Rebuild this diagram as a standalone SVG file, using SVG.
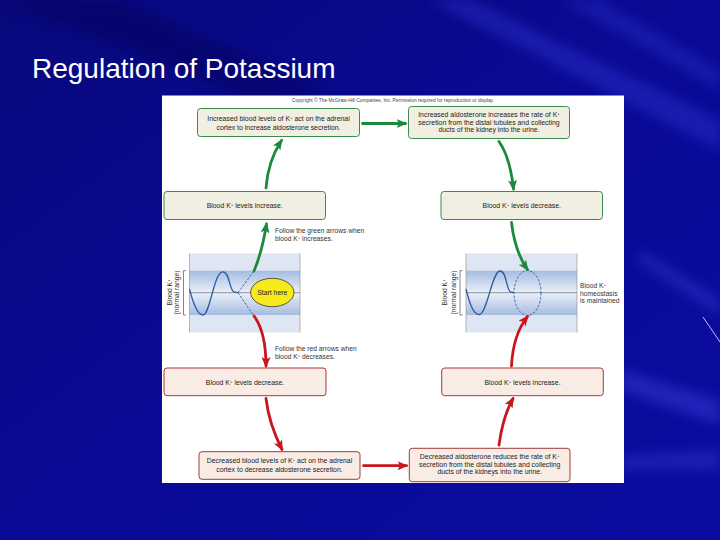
<svg xmlns="http://www.w3.org/2000/svg" width="720" height="540" viewBox="0 0 720 540">
<defs>
<linearGradient id="bg" x1="0" y1="0" x2="1" y2="1">
<stop offset="0" stop-color="#08087c"/>
<stop offset="0.5" stop-color="#0a0a96"/>
<stop offset="1" stop-color="#0b0ba0"/>
</linearGradient>
<linearGradient id="band" x1="0" y1="0" x2="0" y2="1">
<stop offset="0" stop-color="#a6bbe0"/>
<stop offset="0.5" stop-color="#eaf0f9"/>
<stop offset="1" stop-color="#a6bbe0"/>
</linearGradient>
<filter id="blur" x="-20%" y="-20%" width="140%" height="140%"><feGaussianBlur stdDeviation="6"/></filter>
<marker id="ag" markerUnits="userSpaceOnUse" markerWidth="11" markerHeight="9" viewBox="0 0 11 9" refX="9" refY="4.5" orient="auto">
<path d="M0,0 L11,4.5 L0,9 L2.5,4.5 z" fill="#1c8a3c"/>
</marker>
<marker id="ar" markerUnits="userSpaceOnUse" markerWidth="11" markerHeight="9" viewBox="0 0 11 9" refX="9" refY="4.5" orient="auto">
<path d="M0,0 L11,4.5 L0,9 L2.5,4.5 z" fill="#c8161d"/>
</marker>
</defs>
<style>
.txt{font-family:"Liberation Sans",Arial,sans-serif;font-size:6.9px;fill:#222;text-anchor:middle}
.lab{font-family:"Liberation Sans",Arial,sans-serif;font-size:6.7px;fill:#333}
.gbox{fill:#f1efe1;stroke:#3b8b4f;stroke-width:1}
.rbox{fill:#f8ece5;stroke:#a23b3b;stroke-width:1}
.ga{fill:none;stroke:#1c8a3c;stroke-width:2.8;stroke-linecap:round;marker-end:url(#ag)}
.ra{fill:none;stroke:#c8161d;stroke-width:2.8;stroke-linecap:round;marker-end:url(#ar)}
.dash{fill:none;stroke:#2a5a9a;stroke-width:0.9;stroke-dasharray:2.5 1.5}
.wave{fill:none;stroke:#2b5c9e;stroke-width:1.3}
.sup{font-size:4.4px}
</style>

<!-- background -->
<rect x="0" y="0" width="720" height="540" fill="url(#bg)"/>
<g filter="url(#blur)" opacity="0.35">
<polygon points="430,0 470,0 720,120 720,150" fill="#3a3ae0"/>
<polygon points="560,0 600,0 720,70 720,90" fill="#3030d0"/>
<polygon points="0,0 120,0 330,90 250,100" fill="#020250"/>
<polygon points="620,370 720,400 720,425 620,390" fill="#5050f0"/>
<polygon points="620,455 720,450 720,470 620,470" fill="#4040e0"/>
<polygon points="640,250 720,300 720,315 640,262" fill="#4a4ae8"/>
</g>
<line x1="703" y1="317" x2="720" y2="342" stroke="#c9b8ff" stroke-width="1"/>

<text x="32" y="78" font-family="'Liberation Sans',Arial,sans-serif" font-size="28" fill="#ffffff">Regulation of Potassium</text>

<!-- panel -->
<rect x="162" y="95.5" width="462" height="387.5" fill="#ffffff"/>
<text x="393" y="102" font-family="'Liberation Sans',Arial,sans-serif" font-size="4.85" fill="#444" text-anchor="middle">Copyright © The McGraw-Hill Companies, Inc. Permission required for reproduction or display.</text>

<!-- charts -->
<g id="chart-left">
<rect x="189.5" y="253.5" width="110.5" height="79" fill="#dfe6f3"/>
<rect x="189.5" y="270.7" width="110.5" height="44.3" fill="url(#band)"/>
<line x1="189.5" y1="253.5" x2="189.5" y2="332.5" stroke="#8a8a8a" stroke-width="0.6"/>
<line x1="300" y1="253.5" x2="300" y2="332.5" stroke="#8a8a8a" stroke-width="0.6"/>
<line x1="189.5" y1="292.7" x2="300" y2="292.7" stroke="#555" stroke-width="0.6"/>
<path d="M183.5,270.7 H186 M183.5,270.7 V315 M183.5,315 H186" fill="none" stroke="#333" stroke-width="0.6"/>
<text class="lab" transform="translate(172.2,292.5) rotate(-90)" text-anchor="middle">Blood K<tspan class="sup" dy="-2">+</tspan></text>
<text class="lab" transform="translate(179.2,292.5) rotate(-90)" text-anchor="middle">(normal range)</text>
<path class="wave" d="M189.5,289 C193,303 197,315 203,315 C210,315 214,271.8 222.7,271.8 C230,271.8 229,290 234,291.8 L238,292.7"/>
<path class="dash" d="M238,292.7 L254,271"/>
<path class="dash" d="M238,292.7 L254,316"/>
</g>
<g id="start">
<ellipse cx="272.3" cy="292.5" rx="21.7" ry="14.2" fill="#f6ea1c" stroke="#333" stroke-width="0.8"/>
<text x="272.3" y="294.8" class="txt">Start here</text>
</g>

<g id="chart-right">
<rect x="466" y="253.5" width="111" height="79" fill="#dfe6f3"/>
<rect x="466" y="270.7" width="111" height="44.3" fill="url(#band)"/>
<line x1="466" y1="253.5" x2="466" y2="332.5" stroke="#8a8a8a" stroke-width="0.6"/>
<line x1="577" y1="253.5" x2="577" y2="332.5" stroke="#8a8a8a" stroke-width="0.6"/>
<line x1="466" y1="292.7" x2="577" y2="292.7" stroke="#555" stroke-width="0.6"/>
<path d="M460,270.7 H462.5 M460,270.7 V315 M460,315 H462.5" fill="none" stroke="#333" stroke-width="0.6"/>
<text class="lab" transform="translate(447.2,292.5) rotate(-90)" text-anchor="middle">Blood K<tspan class="sup" dy="-2">+</tspan></text>
<text class="lab" transform="translate(455.8,292.5) rotate(-90)" text-anchor="middle">(normal range)</text>
<path class="wave" d="M466,289 C469.5,303 473,314.5 479.3,314.5 C487,314.5 492,271 500,271 C507,271 506,290 510.5,291.8 L514,292.7"/>
<ellipse class="dash" cx="527.5" cy="293" rx="13.5" ry="22.5"/>
<text class="lab" x="580" y="288.2">Blood K<tspan class="sup" dy="-2">+</tspan></text>
<text class="lab" x="580" y="295.8">homeostasis</text>
<text class="lab" x="580" y="303.4">is maintained</text>
</g>

<!-- boxes -->
<g id="box1">
<rect class="gbox" x="197.5" y="108.5" width="162" height="28" rx="3"/>
<text class="txt" x="278.5" y="121.3">Increased blood levels of K<tspan class="sup" dy="-2">+</tspan><tspan dy="2"> act on the adrenal</tspan></text>
<text class="txt" x="278.5" y="129.7">cortex to increase aldosterone secretion.</text>
</g>
<g id="box2">
<rect class="gbox" x="408.5" y="106.5" width="161" height="32" rx="3"/>
<text class="txt" x="489" y="117.1">Increased aldosterone increases the rate of K<tspan class="sup" dy="-2">+</tspan></text>
<text class="txt" x="489" y="124.8">secretion from the distal tubules and collecting</text>
<text class="txt" x="489" y="132.4">ducts of the kidney into the urine.</text>
</g>
<g id="box3">
<rect class="gbox" x="164" y="191.5" width="161.5" height="28" rx="3"/>
<text class="txt" x="244.7" y="208">Blood K<tspan class="sup" dy="-2">+</tspan><tspan dy="2"> levels increase.</tspan></text>
</g>
<g id="box4">
<rect class="gbox" x="441" y="191.5" width="161.5" height="28" rx="3"/>
<text class="txt" x="521.8" y="208">Blood K<tspan class="sup" dy="-2">+</tspan><tspan dy="2"> levels decrease.</tspan></text>
</g>
<g id="box5">
<rect class="rbox" x="164" y="368" width="162" height="27.7" rx="3"/>
<text class="txt" x="245" y="385">Blood K<tspan class="sup" dy="-2">+</tspan><tspan dy="2"> levels decrease.</tspan></text>
</g>
<g id="box6">
<rect class="rbox" x="441.7" y="368" width="161.6" height="27.7" rx="3"/>
<text class="txt" x="522.5" y="385">Blood K<tspan class="sup" dy="-2">+</tspan><tspan dy="2"> levels increase.</tspan></text>
</g>
<g id="box7">
<rect class="rbox" x="199" y="451.7" width="161" height="27.6" rx="3"/>
<text class="txt" x="279.5" y="463.2">Decreased blood levels of K<tspan class="sup" dy="-2">+</tspan><tspan dy="2"> act on the adrenal</tspan></text>
<text class="txt" x="279.5" y="471.5">cortex to decrease aldosterone secretion.</text>
</g>
<g id="box8">
<rect class="rbox" x="409.3" y="448.3" width="160.7" height="33.4" rx="3"/>
<text class="txt" x="489.7" y="459.2">Decreased aldosterone reduces the rate of K<tspan class="sup" dy="-2">+</tspan></text>
<text class="txt" x="489.7" y="466.6">secretion from the distal tubules and collecting</text>
<text class="txt" x="489.7" y="474.2">ducts of the kidneys into the urine.</text>
</g>

<g id="notes">
<text class="lab" x="275" y="233.2">Follow the green arrows when</text>
<text class="lab" x="275" y="241.4">blood K<tspan class="sup" dy="-2">+</tspan><tspan dy="2"> increases.</tspan></text>
<text class="lab" x="275" y="350.7">Follow the red arrows when</text>
<text class="lab" x="275" y="359">blood K<tspan class="sup" dy="-2">+</tspan><tspan dy="2"> decreases.</tspan></text>
</g>

<!-- connectors -->
<g id="connectors">
<path class="ga" d="M254,271 Q262,252 266.5,224"/>
<path class="ga" d="M266,188 Q268,161 281.5,140.5"/>
<path class="ga" d="M362.5,123.5 L405.5,123.5"/>
<path class="ga" d="M499,141.5 Q510,157 513.5,189"/>
<path class="ga" d="M511.5,222.5 Q515,252 527.5,269.5"/>
<path class="ra" d="M254,316 Q266,332 266,366"/>
<path class="ra" d="M266,398.5 Q269,424 282,449.5"/>
<path class="ra" d="M363.5,465.7 L406.5,465.7"/>
<path class="ra" d="M499,445 Q503,416 513,398.5"/>
<path class="ra" d="M511.5,366 Q513,335 527.5,316.5"/>
</g>
</svg>
